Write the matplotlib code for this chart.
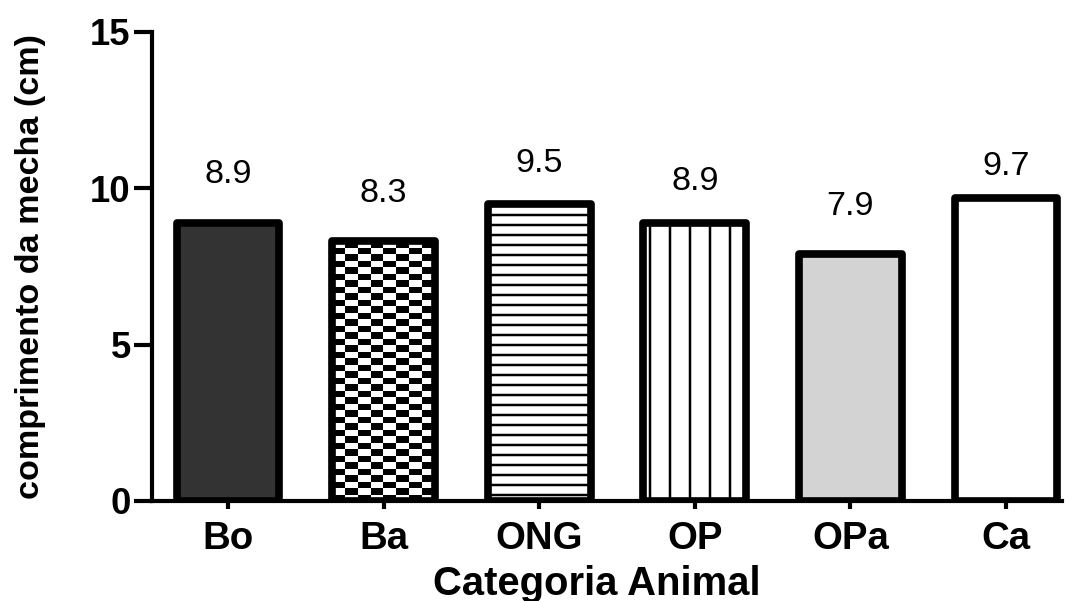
import numpy as np
import matplotlib
matplotlib.use("Agg")
import matplotlib.pyplot as plt

categorias = ["Bo", "Ba", "ONG", "OP", "OPa", "Ca"]
valores = [8.9, 8.3, 9.5, 8.9, 7.9, 9.7]
rotulos = ["8.9", "8.3", "9.5", "8.9", "7.9", "9.7"]
cores = ["#333333", "none", "white", "white", "#d3d3d3", "white"]
hachuras = [None, None, "--", "|", None, None]

plt.rcParams['font.family'] = ['Liberation Sans', 'DejaVu Sans']
plt.rcParams['hatch.linewidth'] = 1.5

dpi = 120
fig = plt.figure(figsize=(1069 / dpi, 601 / dpi), dpi=dpi)
ax = fig.add_axes([0.1422, 0.1664, 0.8513, 0.7804])

x = np.arange(len(categorias))
largura = 0.66
barras = ax.bar(x, valores, width=largura, color=cores, edgecolor="black",
                linewidth=4.6, zorder=3)
for b, h in zip(barras, hachuras):
    b.set_joinstyle("round")
    if h:
        b.set_hatch(h)

# tabuleiro de xadrez para "Ba"
b = barras[1]
xadrez = np.indices((40, 8)).sum(axis=0) % 2
img = ax.imshow(xadrez, cmap="gray", interpolation="nearest", aspect="auto",
                extent=[b.get_x(), b.get_x() + b.get_width(), 0, b.get_height()],
                origin="lower", zorder=2)
img.set_clip_path(b)

# distancia do rotulo acima da barra (nao e uniforme no original)
folga = [1.27, 1.26, 1.02, 1.05, 1.25, 0.73]
for xi, v, t, f in zip(x, valores, rotulos, folga):
    ax.text(xi, v + f, t, ha="center", va="baseline", fontsize=20.5)

ax.set_xlim(-0.488, 5.36)
ax.set_ylim(0, 15)
ax.set_yticks([0, 5, 10, 15])
ax.set_xticks(x)
ax.set_xticklabels(categorias, fontsize=23, fontweight="bold")
ax.tick_params(axis="y", labelsize=22, length=10.8, width=2.5, pad=2)
ax.tick_params(axis="x", length=4.8, width=2.5, pad=7)
for lbl in ax.get_yticklabels():
    lbl.set_fontweight("bold")

for s in ["top", "right"]:
    ax.spines[s].set_visible(False)
for s in ["left", "bottom"]:
    ax.spines[s].set_linewidth(2.5)

ax.set_ylabel("comprimento da mecha (cm)", fontsize=20.5, fontweight="bold", va="center")
ax.yaxis.set_label_coords(-0.134, 0.5)
ax.set_xlabel("Categoria Animal", fontsize=24, fontweight="bold", va="center")
ax.xaxis.set_label_coords(0.489, -0.177)

plt.savefig("out.png", dpi=dpi)
